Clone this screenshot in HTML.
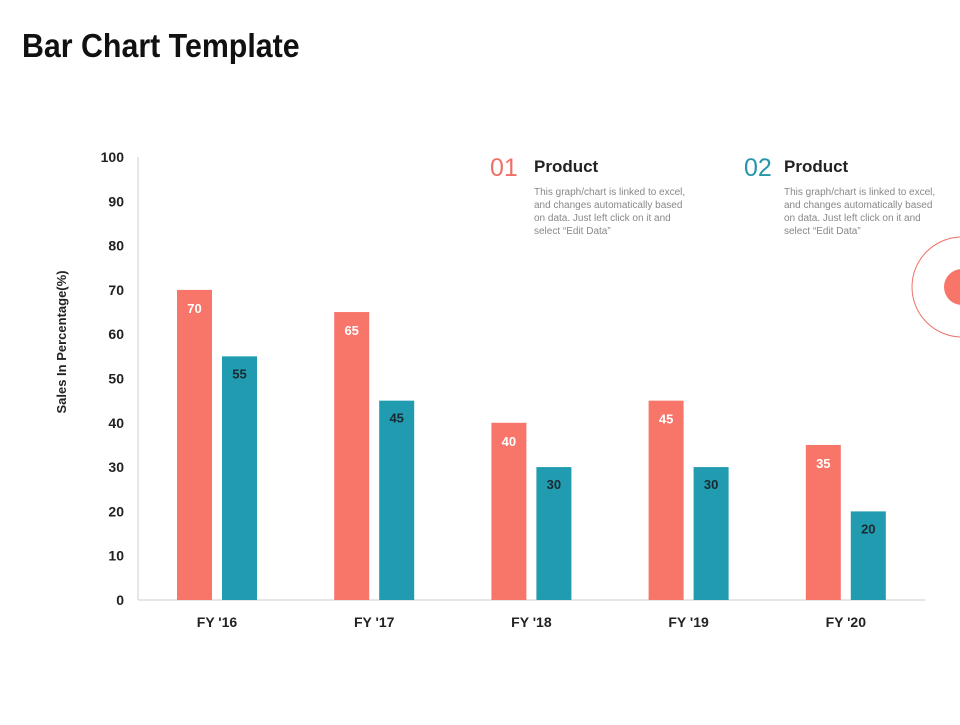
<!DOCTYPE html>
<html><head><meta charset="utf-8"><style>
body{margin:0;width:960px;height:720px;background:#fff;overflow:hidden;font-family:"Liberation Sans",sans-serif;}
</style></head><body>
<svg width="960" height="720" xmlns="http://www.w3.org/2000/svg">
<text x="22" y="57" font-size="33" font-weight="bold" fill="#111" transform="translate(22,0) scale(0.92,1) translate(-22,0)">Bar Chart Template</text>
<g>
<text x="490" y="176" font-size="25" fill="#F07068">01</text>
<text x="534" y="172" font-size="17" font-weight="bold" fill="#222">Product</text>
<text font-size="10" fill="#888"><tspan x="534" y="195">This graph/chart is linked to excel,</tspan><tspan x="534" y="208">and changes automatically based</tspan><tspan x="534" y="221">on data. Just left click on it and</tspan><tspan x="534" y="234">select “Edit Data”</tspan></text>
</g>
<g>
<text x="744" y="176" font-size="25" fill="#2596AA">02</text>
<text x="784" y="172" font-size="17" font-weight="bold" fill="#222">Product</text>
<text font-size="10" fill="#888"><tspan x="784" y="195">This graph/chart is linked to excel,</tspan><tspan x="784" y="208">and changes automatically based</tspan><tspan x="784" y="221">on data. Just left click on it and</tspan><tspan x="784" y="234">select “Edit Data”</tspan></text>
</g>
<circle cx="962" cy="287" r="50" fill="none" stroke="#F07068" stroke-width="1"/>
<circle cx="962" cy="287" r="18" fill="#F8756A"/>
<text transform="translate(66,342) rotate(-90)" text-anchor="middle" font-size="13" font-weight="bold" fill="#222">Sales In Percentage(%)</text>
<line x1="138" y1="157" x2="138" y2="600" stroke="#ccc"/>
<line x1="138" y1="600" x2="925" y2="600" stroke="#ccc"/>
<g id="ticks"></g><g id="bars"></g>
</svg>
<script>
const categories=["FY '16","FY '17","FY '18","FY '19","FY '20"];
const series1=[70,65,40,45,35];
const series2=[55,45,30,30,20];
const yTicks=[0,10,20,30,40,50,60,70,80,90,100];
const NS="http://www.w3.org/2000/svg";
const y=v=>600-v*4.43;
const x=i=>177+i*157.2;
const tg=document.getElementById('ticks'),bg=document.getElementById('bars');
function mk(tag,attrs,parent,txt){const e=document.createElementNS(NS,tag);for(const k in attrs)e.setAttribute(k,attrs[k]);if(txt!=null)e.textContent=txt;parent.appendChild(e);return e;}
yTicks.forEach(t=>{const e=mk('text',{x:124,y:y(t)+5,'text-anchor':'end','font-size':14,'font-weight':'bold',fill:'#222'},tg,t);

});
categories.forEach((c,i)=>{
const l=mk('text',{x:x(i)+40,y:627,'text-anchor':'middle','font-size':14,'font-weight':'bold',fill:'#222'},tg,c);


const b1=mk('rect',{x:x(i),y:y(series1[i]),width:35,height:series1[i]*4.43,fill:'#F8756A'},bg);


const t1=mk('text',{x:x(i)+17.5,y:y(series1[i])+23,'text-anchor':'middle','font-size':13,'font-weight':'bold',fill:'#fff'},bg,series1[i]);


const b2=mk('rect',{x:x(i)+45,y:y(series2[i]),width:35,height:series2[i]*4.43,fill:'#209BB0'},bg);


const t2=mk('text',{x:x(i)+62.5,y:y(series2[i])+22,'text-anchor':'middle','font-size':13,'font-weight':'bold',fill:'#1a2a30'},bg,series2[i]);


});
</script>
</body></html>
